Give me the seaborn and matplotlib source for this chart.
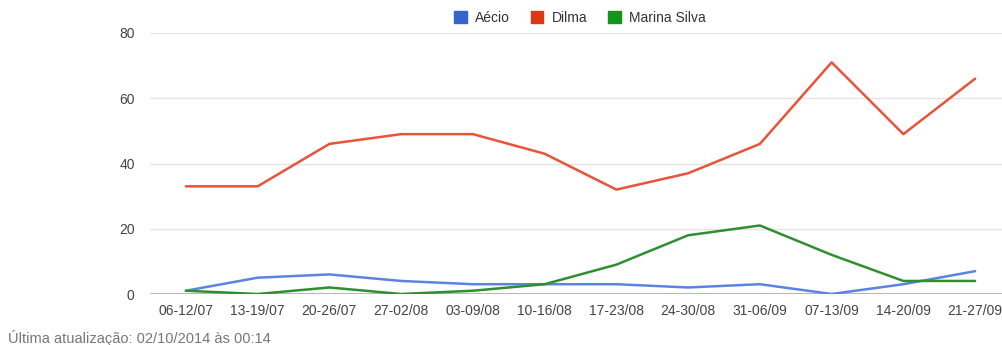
import matplotlib
matplotlib.use("Agg")
import matplotlib.pyplot as plt
import seaborn as sns
import pandas as pd
from matplotlib.patches import Patch

weeks = ["06-12/07", "13-19/07", "20-26/07", "27-02/08", "03-09/08", "10-16/08",
         "17-23/08", "24-30/08", "31-06/09", "07-13/09", "14-20/09", "21-27/09"]
aecio = [1, 5, 6, 4, 3, 3, 3, 2, 3, 0, 3, 7]
dilma = [33, 33, 46, 49, 49, 43, 32, 37, 46, 71, 49, 66]
marina = [1, 0, 2, 0, 1, 3, 9, 18, 21, 12, 4, 4]

series_names = ["Aécio", "Dilma", "Marina Silva"]
colors = {"Aécio": "#3366cc", "Dilma": "#dc3912", "Marina Silva": "#109618"}
line_colors = {"Aécio": "#5b83e0", "Dilma": "#e8533a", "Marina Silva": "#2f8f2f"}
y_ticks = [0, 20, 40, 60, 80]

rows = []
for name, vals in zip(series_names, [aecio, dilma, marina]):
    for i, (w, v) in enumerate(zip(weeks, vals)):
        rows.append({"idx": i, "semana": w, "candidato": name, "valor": v})
df = pd.DataFrame(rows)

sns.set_theme(style="white")
plt.rcParams["font.family"] = ["Liberation Sans", "DejaVu Sans"]

fig = plt.figure(figsize=(10.02, 3.45), dpi=100)
# plot area: x from 150px to 1011px, y from 33px (80) to 294px (0)
ax = fig.add_axes([150 / 1002, 51 / 345, 861 / 1002, 261 / 345])

for y in y_ticks[1:]:
    ax.axhline(y, color="#e4e4e4", lw=1.0, zorder=0)
ax.axhline(0, color="#a0a0a0", lw=1.8, zorder=1)

sns.lineplot(data=df, x="idx", y="valor", hue="candidato", hue_order=series_names,
             palette=line_colors, linewidth=1.8, ax=ax, legend=False, zorder=3)

ax.set_xlim(-0.5, 11.5)
ax.set_ylim(0, 80)
ax.set_xticks(range(len(weeks)))
ax.set_xticklabels(weeks)
ax.set_yticks(y_ticks)
ax.set_yticklabels([str(v) for v in y_ticks])
ax.tick_params(axis="both", length=0, labelsize=10, colors="#444444")
ax.tick_params(axis="x", pad=7)
ax.tick_params(axis="y", pad=11)
ax.set_xlabel("")
ax.set_ylabel("")
for s in ax.spines.values():
    s.set_visible(False)

handles = [Patch(facecolor=colors[n], edgecolor=colors[n], label=n) for n in series_names]
fig.legend(handles=handles, loc="center", bbox_to_anchor=(580 / 1002, 1 - 18 / 345),
           ncol=3, frameon=False, fontsize=10, handlelength=0.9, handleheight=0.9,
           handletextpad=0.6, columnspacing=1.5, labelcolor="#333333")

fig.text(8 / 1002, 1 - 338 / 345, "Última atualização: 02/10/2014 às 00:14",
         fontsize=10.5, color="#777777", va="center", ha="left")

fig.savefig("out.png", dpi=100)
